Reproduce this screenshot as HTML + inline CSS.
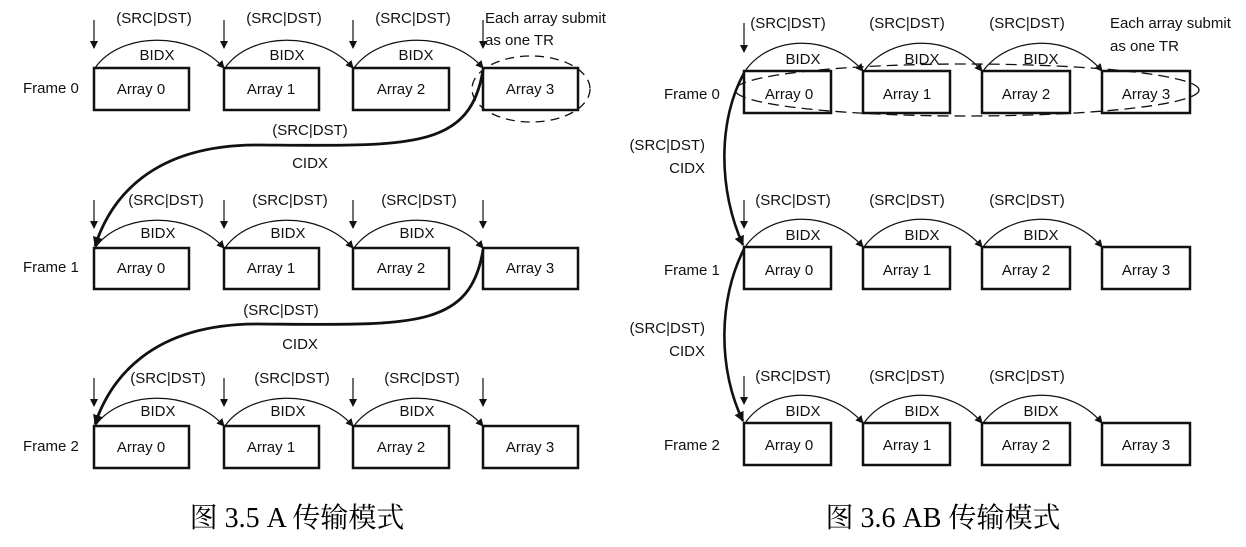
<!DOCTYPE html>
<html><head><meta charset="utf-8"><style>
html,body{margin:0;padding:0;background:#fff;}
svg{display:block;}
text{font-family:"Liberation Sans",sans-serif;font-size:15px;fill:#111;}
.cap{font-family:"Liberation Serif","Noto Serif CJK SC",serif;font-size:28px;fill:#000;}
</style></head><body>
<svg width="1246" height="547" viewBox="0 0 1246 547" xmlns="http://www.w3.org/2000/svg">
<defs>
<marker id="ah" markerWidth="8" markerHeight="8" refX="7" refY="4" orient="auto" markerUnits="userSpaceOnUse">
<path d="M0,0 L8,4 L0,8 z" fill="#111"/></marker>
<marker id="ahb" markerWidth="10" markerHeight="10" refX="9" refY="5" orient="auto" markerUnits="userSpaceOnUse">
<path d="M0,0 L10,5 L0,10 z" fill="#111"/></marker>
</defs>
<g fill="none" stroke="#111">
<!-- LEFT boxes -->
<g stroke-width="2.5">
<rect x="94" y="68" width="95" height="42"/><rect x="224" y="68" width="95" height="42"/><rect x="353" y="68" width="96" height="42"/><rect x="483" y="68" width="95" height="42"/>
<rect x="94" y="248" width="95" height="41"/><rect x="224" y="248" width="95" height="41"/><rect x="353" y="248" width="96" height="41"/><rect x="483" y="248" width="95" height="41"/>
<rect x="94" y="426" width="95" height="42"/><rect x="224" y="426" width="95" height="42"/><rect x="353" y="426" width="96" height="42"/><rect x="483" y="426" width="95" height="42"/>
</g>
<!-- left down arrows -->
<g stroke-width="1.2" marker-end="url(#ah)">
<line x1="94" y1="20" x2="94" y2="48"/><line x1="224" y1="20" x2="224" y2="48"/><line x1="353" y1="20" x2="353" y2="48"/><line x1="483" y1="20" x2="483" y2="48"/>
<line x1="94" y1="200" x2="94" y2="228"/><line x1="224" y1="200" x2="224" y2="228"/><line x1="353" y1="200" x2="353" y2="228"/><line x1="483" y1="200" x2="483" y2="228"/>
<line x1="94" y1="378" x2="94" y2="406"/><line x1="224" y1="378" x2="224" y2="406"/><line x1="353" y1="378" x2="353" y2="406"/><line x1="483" y1="378" x2="483" y2="406"/>
</g>
<!-- left arcs -->
<g stroke-width="1.2" marker-end="url(#ah)">
<path d="M95,68 C120,32 190,30 224,68"/><path d="M225,68 C250,32 320,30 353,68"/><path d="M354,68 C380,32 450,30 483,68"/>
<path d="M95,248 C120,212 190,210 224,248"/><path d="M225,248 C250,212 320,210 353,248"/><path d="M354,248 C380,212 450,210 483,248"/>
<path d="M95,426 C120,390 190,388 224,426"/><path d="M225,426 C250,390 320,388 353,426"/><path d="M354,426 C380,390 450,388 483,426"/>
</g>
<ellipse cx="531" cy="89" rx="59" ry="33" stroke-width="1.3" stroke-dasharray="9,6"/>
<g stroke-width="2.8" marker-end="url(#ahb)">
<path d="M483,70 C470,150 410,146 260,145 C150,144 110,200 95,246"/>
<path d="M483,250 C470,330 410,325 260,324 C150,323 110,380 95,424"/>
</g>
<!-- RIGHT boxes -->
<g stroke-width="2.5">
<rect x="744" y="71" width="87" height="42"/><rect x="863" y="71" width="87" height="42"/><rect x="982" y="71" width="88" height="42"/><rect x="1102" y="71" width="88" height="42"/>
<rect x="744" y="247" width="87" height="42"/><rect x="863" y="247" width="87" height="42"/><rect x="982" y="247" width="88" height="42"/><rect x="1102" y="247" width="88" height="42"/>
<rect x="744" y="423" width="87" height="42"/><rect x="863" y="423" width="87" height="42"/><rect x="982" y="423" width="88" height="42"/><rect x="1102" y="423" width="88" height="42"/>
</g>
<g stroke-width="1.2" marker-end="url(#ah)">
<line x1="744" y1="23" x2="744" y2="52"/><line x1="744" y1="200" x2="744" y2="228"/><line x1="744" y1="376" x2="744" y2="404"/>
<path d="M745,71 C770,35 830,33 863,71"/><path d="M864,71 C890,35 950,33 982,71"/><path d="M983,71 C1010,35 1070,33 1102,71"/>
<path d="M745,247 C770,211 830,209 863,247"/><path d="M864,247 C890,211 950,209 982,247"/><path d="M983,247 C1010,211 1070,209 1102,247"/>
<path d="M745,423 C770,387 830,385 863,423"/><path d="M864,423 C890,387 950,385 982,423"/><path d="M983,423 C1010,387 1070,385 1102,423"/>
</g>
<ellipse cx="967" cy="90" rx="232" ry="26" stroke-width="1.3" stroke-dasharray="11,6"/>
<g stroke-width="2.6" marker-end="url(#ahb)">
<path d="M744,73 C718,120 718,190 743,245"/>
<path d="M744,249 C718,300 718,370 743,421"/>
</g>
</g>
<!-- LEFT text -->
<g text-anchor="middle">
<text x="154" y="23">(SRC|DST)</text><text x="284" y="23">(SRC|DST)</text><text x="413" y="23">(SRC|DST)</text>
<text x="157" y="60">BIDX</text><text x="287" y="60">BIDX</text><text x="416" y="60">BIDX</text>
<text x="141" y="94">Array 0</text><text x="271" y="94">Array 1</text><text x="401" y="94">Array 2</text><text x="530" y="94">Array 3</text>
<text x="310" y="135">(SRC|DST)</text><text x="310" y="168">CIDX</text>
<text x="166" y="205">(SRC|DST)</text><text x="290" y="205">(SRC|DST)</text><text x="419" y="205">(SRC|DST)</text>
<text x="158" y="238">BIDX</text><text x="288" y="238">BIDX</text><text x="417" y="238">BIDX</text>
<text x="141" y="273">Array 0</text><text x="271" y="273">Array 1</text><text x="401" y="273">Array 2</text><text x="530" y="273">Array 3</text>
<text x="281" y="315">(SRC|DST)</text><text x="300" y="349">CIDX</text>
<text x="168" y="383">(SRC|DST)</text><text x="292" y="383">(SRC|DST)</text><text x="422" y="383">(SRC|DST)</text>
<text x="158" y="416">BIDX</text><text x="288" y="416">BIDX</text><text x="417" y="416">BIDX</text>
<text x="141" y="452">Array 0</text><text x="271" y="452">Array 1</text><text x="401" y="452">Array 2</text><text x="530" y="452">Array 3</text>
</g>
<text x="23" y="93">Frame 0</text><text x="23" y="272">Frame 1</text><text x="23" y="451">Frame 2</text>
<text x="485" y="23">Each array submit</text><text x="485" y="45">as one TR</text>
<!-- RIGHT text -->
<g text-anchor="middle">
<text x="788" y="28">(SRC|DST)</text><text x="907" y="28">(SRC|DST)</text><text x="1027" y="28">(SRC|DST)</text>
<text x="803" y="64">BIDX</text><text x="922" y="64">BIDX</text><text x="1041" y="64">BIDX</text>
<text x="789" y="99">Array 0</text><text x="907" y="99">Array 1</text><text x="1026" y="99">Array 2</text><text x="1146" y="99">Array 3</text>
<text x="793" y="205">(SRC|DST)</text><text x="907" y="205">(SRC|DST)</text><text x="1027" y="205">(SRC|DST)</text>
<text x="803" y="240">BIDX</text><text x="922" y="240">BIDX</text><text x="1041" y="240">BIDX</text>
<text x="789" y="275">Array 0</text><text x="907" y="275">Array 1</text><text x="1026" y="275">Array 2</text><text x="1146" y="275">Array 3</text>
<text x="793" y="381">(SRC|DST)</text><text x="907" y="381">(SRC|DST)</text><text x="1027" y="381">(SRC|DST)</text>
<text x="803" y="416">BIDX</text><text x="922" y="416">BIDX</text><text x="1041" y="416">BIDX</text>
<text x="789" y="450">Array 0</text><text x="907" y="450">Array 1</text><text x="1026" y="450">Array 2</text><text x="1146" y="450">Array 3</text>
</g>
<text x="664" y="99">Frame 0</text><text x="664" y="275">Frame 1</text><text x="664" y="450">Frame 2</text>
<g text-anchor="end">
<text x="705" y="150">(SRC|DST)</text><text x="705" y="173">CIDX</text>
<text x="705" y="333">(SRC|DST)</text><text x="705" y="356">CIDX</text>
</g>
<text x="1110" y="28">Each array submit</text><text x="1110" y="51">as one TR</text>
<text class="cap" x="297" y="527" text-anchor="middle">图 3.5 A 传输模式</text>
<text class="cap" x="943" y="527" text-anchor="middle">图 3.6 AB 传输模式</text>
</svg>
</body></html>
